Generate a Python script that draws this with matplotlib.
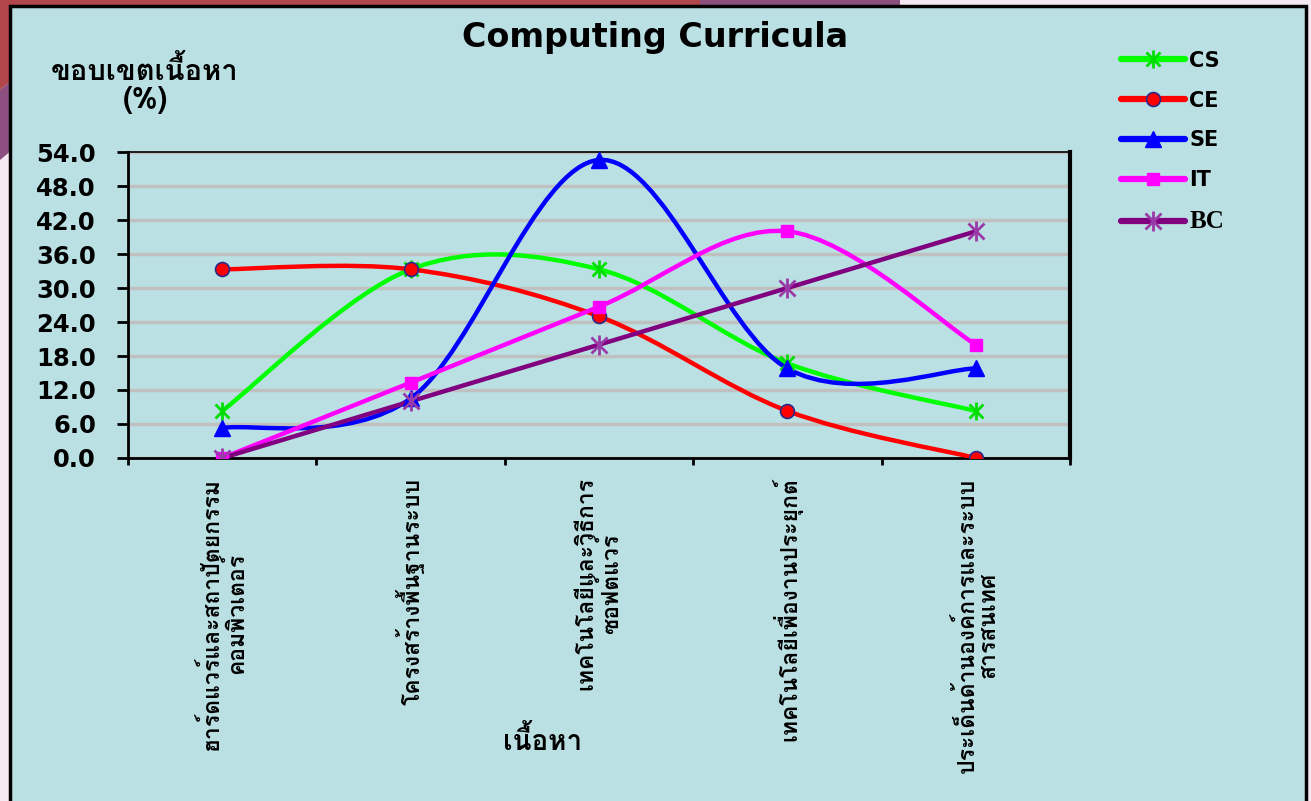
import numpy as np
import matplotlib
matplotlib.use("Agg")
import matplotlib.pyplot as plt
import matplotlib.font_manager as fm
from matplotlib.ft2font import FT2Font
from matplotlib.path import Path
from matplotlib.patches import PathPatch, Rectangle, Polygon
from matplotlib.lines import Line2D
from matplotlib.legend_handler import HandlerTuple

# ---------------- data ----------------
categories = [
    "ฮาร์ดแวร์และสถาปัตยกรรม\nคอมพิวเตอร์",
    "โครงสร้างพื้นฐานระบบ",
    "เทคโนโลยีและวิธีการ\nซอฟต์แวร์",
    "เทคโนโลยีเพื่องานประยุกต์",
    "ประเด็นด้านองค์การและระบบ\nสารสนเทศ",
]
cs = [8.3, 33.3, 33.3, 16.7, 8.3]
ce = [33.3, 33.3, 25.0, 8.3, 0.0]
se = [5.3, 10.5, 52.6, 15.8, 15.8]
it = [0.0, 13.3, 26.7, 40.0, 20.0]
bc = [0.0, 10.0, 20.0, 30.0, 40.0]
yticks = [0, 6, 12, 18, 24, 30, 36, 42, 48, 54]

title = "Computing Curricula"
ylabel = "ขอบเขตเนื้อหา\n(%)"
xlabel = "เนื้อหา"


def find_thai_font():
    for f in fm.fontManager.ttflist:
        try:
            if 0x0E01 in FT2Font(f.fname).get_charmap():
                return f.name
        except Exception:
            pass
    return None


thai = find_thai_font()
thai_family = [thai, "DejaVu Sans"] if thai else ["DejaVu Sans"]


def smooth_path(xs, ys):
    # excel-like smoothed line: catmull-rom as cubic bezier segments
    pts = np.column_stack([xs, ys]).astype(float)
    ext = np.vstack([pts[0], pts, pts[-1]])
    verts = [pts[0]]
    codes = [Path.MOVETO]
    for i in range(len(pts) - 1):
        p0, p1, p2, p3 = ext[i], ext[i + 1], ext[i + 2], ext[i + 3]
        c1 = p1 + (p2 - p0) / 6.0
        c2 = p2 - (p3 - p1) / 6.0
        verts += [c1, c2, p2]
        codes += [Path.CURVE4] * 3
    return Path(verts, codes)


W, H = 1311, 801
fig = plt.figure(figsize=(W / 100, H / 100), dpi=100)
fig.patch.set_facecolor("#f4e9f1")

# slide background peeking out around the chart frame
fig.patches.append(Polygon([[0, 1], [700 / W, 1], [700 / W, 1 - 8 / H], [12 / W, 1 - 8 / H],
                            [12 / W, 1 - 80 / H], [0, 1 - 90 / H]],
                           closed=True, transform=fig.transFigure, facecolor="#b1464b",
                           edgecolor="none", zorder=0))
fig.patches.append(Polygon([[700 / W, 1], [900 / W, 1], [900 / W, 1 - 8 / H], [700 / W, 1 - 8 / H]],
                           closed=True, transform=fig.transFigure, facecolor="#8b4f7e",
                           edgecolor="none", zorder=0))
fig.patches.append(Polygon([[0, 1 - 90 / H], [12 / W, 1 - 80 / H], [12 / W, 1 - 150 / H], [0, 1 - 160 / H]],
                           closed=True, transform=fig.transFigure, facecolor="#8d4f80",
                           edgecolor="none", zorder=0))
# chart area with black frame
fig.patches.append(Rectangle((10 / W, -0.01), 1296 / W, 1 - 6 / H + 0.01, transform=fig.transFigure,
                             facecolor="#bae0e3", edgecolor="black", linewidth=2.5, zorder=0.5))

ax = fig.add_axes([128 / W, 1 - 458 / H, (1070 - 128) / W, (458 - 152) / H])
ax.set_zorder(2)
ax.set_facecolor("#bae0e3")
ax.set_xlim(-0.5, 4.5)
ax.set_ylim(0, 54)

ax.set_yticks(yticks)
ax.set_yticklabels([f"{v:.1f}" for v in yticks], fontsize=17.5, fontweight="bold")
ax.yaxis.grid(True, color="#c0c0c0", linewidth=2.5)
ax.set_axisbelow(True)
ax.tick_params(axis="y", direction="out", length=8, width=2, pad=15)

x = np.arange(len(categories))
ax.set_xticks(x)
ax.set_xticklabels(categories, rotation=90, ha="center", va="top", multialignment="center",
                   fontsize=16.5, fontweight="bold", family=thai_family, linespacing=1.05)
ax.tick_params(axis="x", which="major", length=0, pad=14)
ax.set_xticks(np.arange(-0.5, 5, 1), minor=True)
ax.tick_params(axis="x", which="minor", direction="out", length=5, width=2)

for side, lw in [("left", 2), ("bottom", 2), ("top", 1.2), ("right", 3)]:
    ax.spines[side].set_linewidth(lw)
    ax.spines[side].set_color("black")

series = [
    ("CS", cs, "#00ff00", [dict(marker="x", markersize=10, markeredgecolor="#00dd00", markeredgewidth=2),
                           dict(marker="|", markersize=13, markeredgecolor="#00dd00", markeredgewidth=2)]),
    ("CE", ce, "#ff0000", [dict(marker="o", markersize=10, markerfacecolor="#ff0000",
                                markeredgecolor="#2a2a8a", markeredgewidth=1.2)]),
    ("SE", se, "#0000ff", [dict(marker="^", markersize=12, markerfacecolor="#0000ff", markeredgecolor="#0000ff")]),
    ("IT", it, "#ff00ff", [dict(marker="s", markersize=8, markerfacecolor="#ff00ff", markeredgecolor="#ff00ff")]),
    ("BC", bc, "#800080", [dict(marker="x", markersize=12, markeredgecolor="#9a3aa8", markeredgewidth=2),
                           dict(marker="|", markersize=15, markeredgecolor="#9a3aa8", markeredgewidth=2)]),
]

handles = []
for name, vals, color, mks in series:
    ax.add_patch(PathPatch(smooth_path(x, vals), facecolor="none", edgecolor=color,
                           linewidth=3.2, capstyle="round", zorder=3))
    parts = [Line2D([], [], color=color, linewidth=4.5, solid_capstyle="round")]
    for mk in mks:
        ax.plot(x, vals, linestyle="none", zorder=4, **mk)
        parts.append(Line2D([], [], linestyle="none", **mk))
    handles.append(tuple(parts))

fig.text(655 / W, 1 - 38 / H, title, ha="center", va="center", fontsize=24, fontweight="bold")
fig.text(145 / W, 1 - 85 / H, ylabel, ha="center", va="center", fontsize=21, fontweight="bold",
         family=thai_family, linespacing=1.0)
fig.text(543 / W, 1 - 740 / H, xlabel, ha="center", va="center", fontsize=20, fontweight="bold",
         family=thai_family)

leg = fig.legend(handles, [s[0] for s in series], loc="upper left",
                 bbox_to_anchor=(1102 / W, 1 - 32 / H), frameon=False,
                 handlelength=3.1, handletextpad=0.2, labelspacing=0.95,
                 handler_map={tuple: HandlerTuple(ndivide=1, pad=0)},
                 prop={"weight": "bold", "size": 15})
for t in leg.get_texts():
    if t.get_text() == "BC":
        t.set_family("Liberation Serif")
        t.set_fontsize(18)

fig.savefig("out.png", dpi=100, facecolor=fig.get_facecolor())
